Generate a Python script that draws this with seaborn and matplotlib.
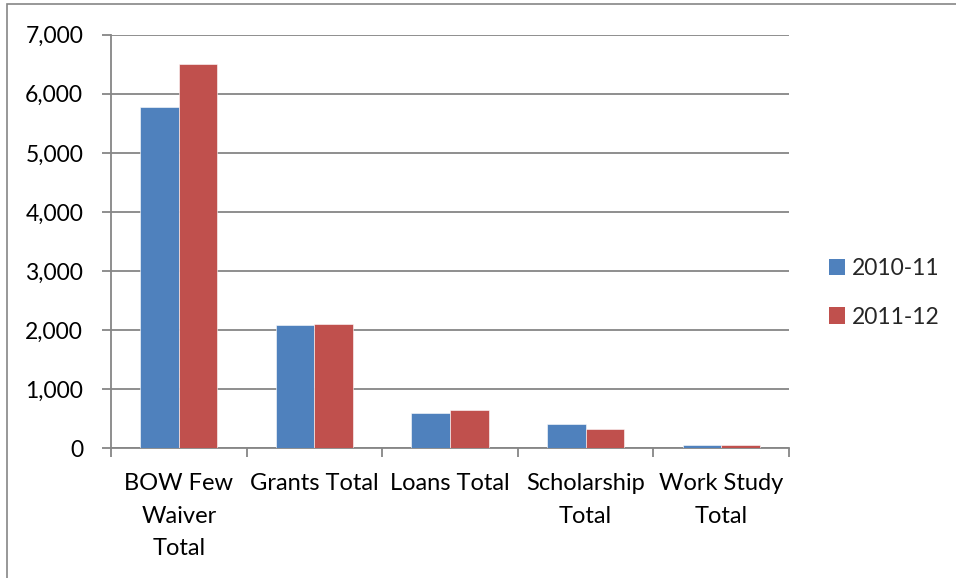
import matplotlib
matplotlib.use("Agg")
import matplotlib.pyplot as plt
from matplotlib.patches import Patch, Rectangle
from matplotlib.ticker import FuncFormatter, FixedLocator
import seaborn as sns
import pandas as pd

categories = ["BOW Few\nWaiver\nTotal", "Grants Total", "Loans Total",
              "Scholarship\nTotal", "Work Study\nTotal"]
years = ["2010-11", "2011-12"]
values_2010_11 = [5770, 2080, 590, 410, 50]
values_2011_12 = [6510, 2100, 650, 320, 50]
y_ticks = [0, 1000, 2000, 3000, 4000, 5000, 6000, 7000]

colors = ["#4F81BD", "#C0504D"]
grid_gray = "#868686"

rows = []
for cat, a, b in zip(categories, values_2010_11, values_2011_12):
    rows.append({"category": cat, "year": years[0], "value": a})
    rows.append({"category": cat, "year": years[1], "value": b})
df = pd.DataFrame(rows)

sns.set_theme(style="white")
plt.rcParams["font.family"] = ["Lato", "DejaVu Sans"]

fig = plt.figure(figsize=(9.56, 5.78), dpi=100)
ax = fig.add_axes([111 / 956, 1 - 448.3 / 578, (789 - 111) / 956, (448.3 - 34.7) / 578])

sns.barplot(data=df, x="category", y="value", hue="year", order=categories,
            hue_order=years, palette=colors, width=0.57, gap=0,
            saturation=1, edgecolor="white", linewidth=0.4, ax=ax, legend=False,
            zorder=3)

ax.set_xlim(-0.5, len(categories) - 0.5)
ax.set_ylim(0, 7000)
ax.yaxis.set_major_locator(FixedLocator(y_ticks))
ax.yaxis.set_major_formatter(FuncFormatter(lambda v, p: f"{int(v):,}"))
ax.grid(axis="y", color=grid_gray, linewidth=1.3, zorder=0)
ax.grid(axis="x", visible=False)

for side in ["top", "right"]:
    ax.spines[side].set_visible(False)
for side in ["left", "bottom"]:
    ax.spines[side].set_color(grid_gray)
    ax.spines[side].set_linewidth(1.3)

ax.set_xlabel("")
ax.set_ylabel("")

# category boundaries carry the tick marks, labels sit centered without ticks
ax.xaxis.set_minor_locator(FixedLocator([i - 0.5 for i in range(len(categories) + 1)]))
ax.tick_params(axis="x", which="major", length=0, pad=18, labelsize=17,
               labelcolor="black")
ax.tick_params(axis="x", which="minor", length=6.5, width=1.3, color=grid_gray,
               direction="out", bottom=True)
ax.tick_params(axis="y", which="major", length=6.5, width=1.3, color=grid_gray,
               direction="out", left=True, pad=13.5, labelsize=16.5, labelcolor="black")
for lab in ax.get_xticklabels():
    lab.set_multialignment("center")
    lab.set_linespacing(1.66)

handles = [Patch(facecolor=c, edgecolor="none") for c in colors]
fig.legend(handles, years, loc="center left", bbox_to_anchor=(829 / 956, 1 - 293 / 578),
           frameon=False, fontsize=16.5, handlelength=0.7, handleheight=0.7,
           handletextpad=0.3, labelspacing=1.18, borderaxespad=0, borderpad=0)

# outer chart frame
fig.patches.append(Rectangle((7 / 956, -0.05), 1.2, 1 - 4 / 578 + 0.05,
                             transform=fig.transFigure, fill=False,
                             edgecolor=grid_gray, linewidth=1.2))

fig.savefig("out.png", dpi=100)
